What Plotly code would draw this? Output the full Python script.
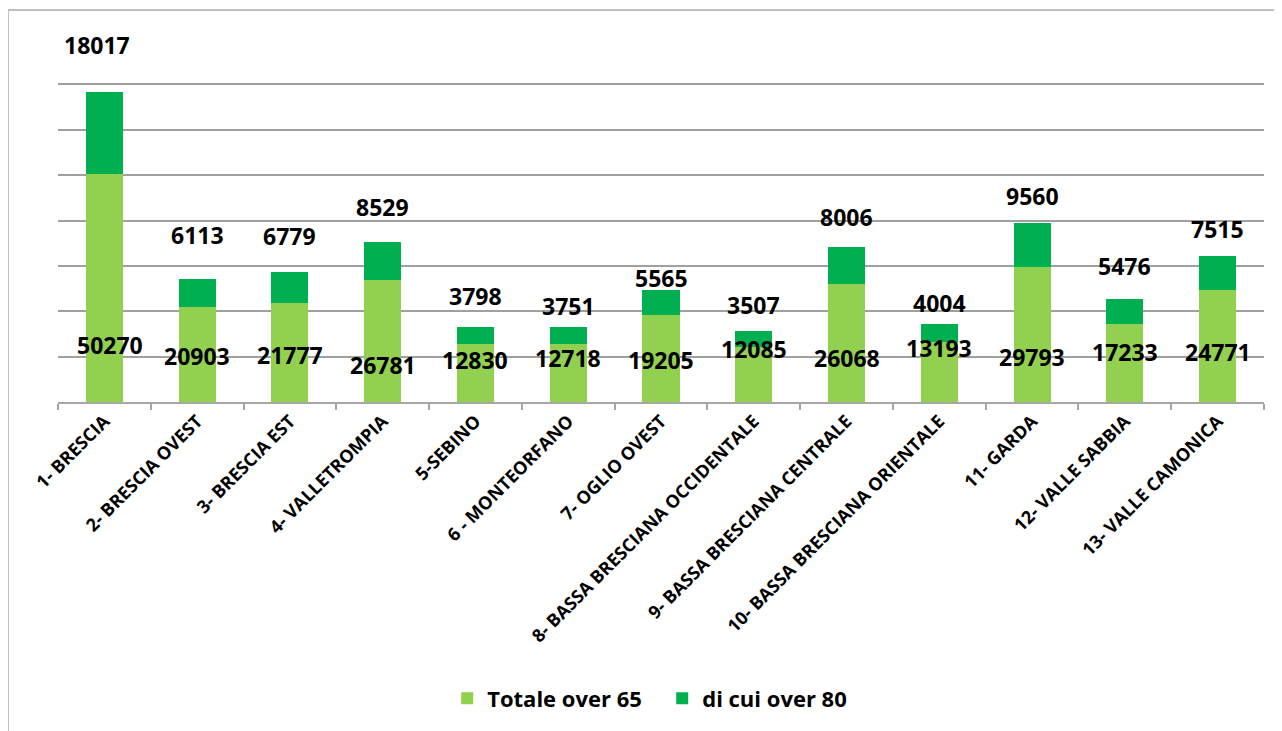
import plotly.graph_objects as go

categories = [
    "1- BRESCIA", "2- BRESCIA OVEST", "3- BRESCIA EST", "4- VALLETROMPIA",
    "5-SEBINO", "6 - MONTEORFANO", "7- OGLIO OVEST",
    "8- BASSA BRESCIANA OCCIDENTALE", "9- BASSA BRESCIANA CENTRALE",
    "10- BASSA BRESCIANA ORIENTALE", "11- GARDA", "12- VALLE SABBIA",
    "13- VALLE CAMONICA",
]
over65 = [50270, 20903, 21777, 26781, 12830, 12718, 19205, 12085, 26068, 13193, 29793, 17233, 24771]
over80 = [18017, 6113, 6779, 8529, 3798, 3751, 5565, 3507, 8006, 4004, 9560, 5476, 7515]

# label placement (style, in axis units)
top_label_y = [78630, 36850, 36630, 43080, 23410, 21060, 27310, 21430, 40880, 21800, 45440, 30020, 38100]
bottom_label_y = [12620, 10040, 10420, 8220, 9320, 9690, 9320, 11740, 9690, 11890, 9910, 11010, 11010]
top_xshift = [-7, 0, 0, 0, 0, 0, 0, 0, 0, 0, 0, 0, 0]
bottom_xshift = [6, 0, 0, 0, 0, 0, 0, 0, 0, 0, 0, 0, 0]

LIGHT = "#92D050"
DARK = "#00B050"
FONT = "Open Sans"

fig = go.Figure()
fig.add_trace(go.Bar(x=categories, y=over65, name="Totale over 65",
                     marker=dict(color=LIGHT, line=dict(width=0))))
fig.add_trace(go.Bar(x=categories, y=over80, name="di cui over 80",
                     marker=dict(color=DARK, line=dict(width=0))))

for i, c in enumerate(categories):
    fig.add_annotation(x=c, y=top_label_y[i], text=str(over80[i]), showarrow=False,
                       xshift=top_xshift[i], yanchor="middle",
                       font=dict(family=FONT, size=23, color="black", weight="bold"))
    fig.add_annotation(x=c, y=bottom_label_y[i], text=str(over65[i]), showarrow=False,
                       xshift=bottom_xshift[i], yanchor="middle",
                       font=dict(family=FONT, size=23, color="black", weight="bold"))

# outer chart border
fig.add_shape(type="rect", xref="paper", yref="paper",
              x0=-0.0415, x1=1.05, y0=-1.0, y1=1.08,
              line=dict(color="#BFBFBF", width=2), fillcolor="rgba(0,0,0,0)", layer="below")

fig.update_layout(
    width=1274, height=723,
    margin=dict(l=50, r=18, t=31, b=329, autoexpand=False),
    paper_bgcolor="white", plot_bgcolor="white",
    barmode="stack", bargap=0.60,
    showlegend=True,
    legend=dict(orientation="h", x=0.501, xanchor="center", y=-0.817, yanchor="middle",
                font=dict(family=FONT, size=22, color="black", weight="bold"),
                entrywidth=170, itemsizing="constant", traceorder="normal"),
    xaxis=dict(tickangle=-45, tickson="boundaries", ticks="outside", ticklen=6,
               tickcolor="#A6A6A6", tickwidth=1.5, showline=True, linecolor="#A6A6A6",
               linewidth=1.5, showgrid=False, automargin=False,
               tickfont=dict(family=FONT, size=18, color="black", weight="bold")),
    yaxis=dict(range=[0, 80000], dtick=10000, showticklabels=False, showgrid=True,
               gridcolor="#A0A0A0", gridwidth=1.5, zeroline=False, showline=False, ticks="",
               automargin=False),
)

fig.write_html("out.html")
